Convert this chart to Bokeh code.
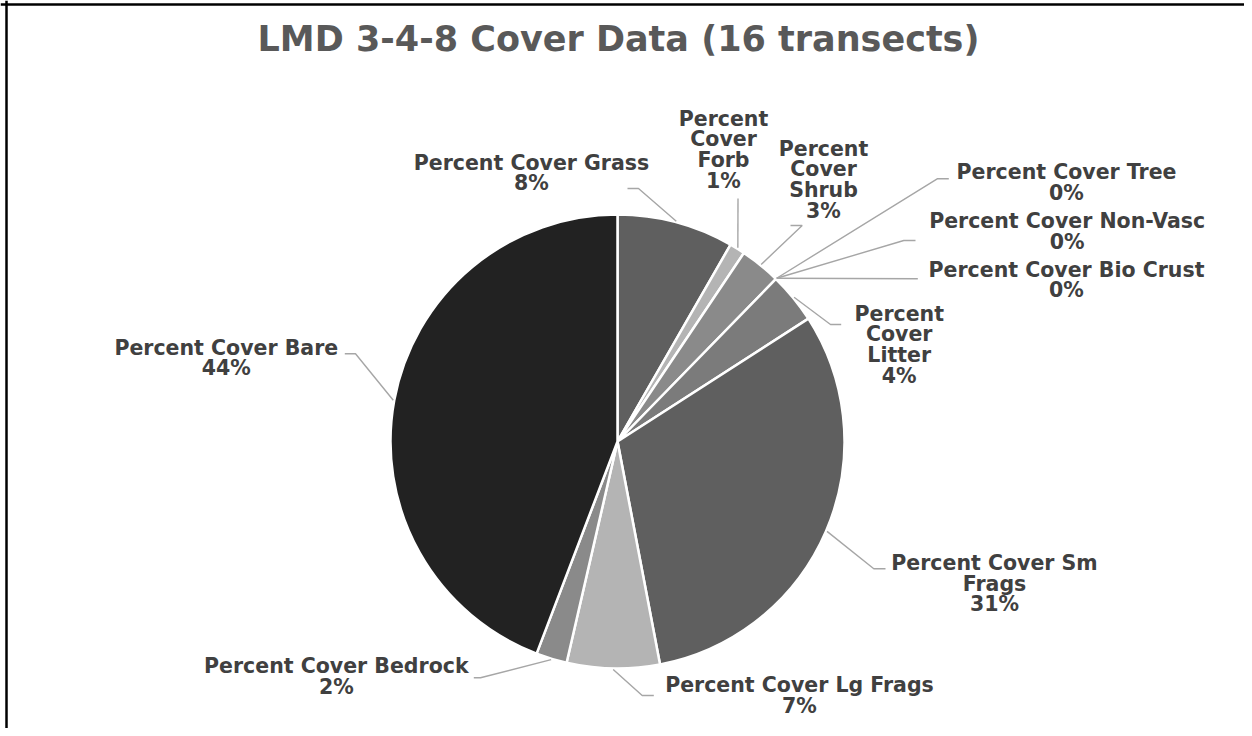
import numpy as np
from bokeh.plotting import figure
from bokeh.models import Range1d, Span, ColumnDataSource
from bokeh.core.properties import value
from bokeh.embed import file_html
from bokeh.resources import INLINE

# ---------------- data ----------------
title = "LMD 3-4-8 Cover Data (16 transects)"
categories = ["Percent Cover Grass", "Percent Cover Forb", "Percent Cover Shrub",
              "Percent Cover Tree", "Percent Cover Non-Vasc", "Percent Cover Bio Crust",
              "Percent Cover Litter", "Percent Cover Sm Frags", "Percent Cover Lg Frags",
              "Percent Cover Bedrock", "Percent Cover Bare"]
values = [8.3, 1.1, 2.9, 0.0, 0.0, 0.0, 3.6, 31.1, 6.6, 2.2, 44.2]

# ---------------- styles / layout ----------------
colors = ["#5f5f5f", "#b4b4b4", "#8a8a8a", "#a5a5a5", "#7f7f7f", "#4d4d4d",
          "#7b7b7b", "#5f5f5f", "#b4b4b4", "#8a8a8a", "#222222"]
CX, CY, R = 617, 441, 227          # pie centre / radius in screen px
LINE_H = 20.7
TEXT_DY = -7
FONT = "DejaVu Sans"
# per slice: label centre x, first baseline y, wrap mode, leader elbow, leader end
label_layout = [
    (531, 169, "none", (638, 188), (627, 188)),
    (723, 125, "words", (737.5, 198), (737.5, 198)),
    (823, 155, "words", (801.7, 225), (790, 225)),
    (1066, 178.3, "none", (936.7, 178.3), (948.3, 178.3)),
    (1066.7, 227.3, "none", (903.3, 240), (915, 240)),
    (1066, 276, "none", (917.3, 278.3), (917.3, 278.3)),
    (898.7, 320, "words", (830, 324), (840.7, 324)),
    (994, 569.3, 3, (873.3, 568.3), (885, 568.3)),
    (799, 691.7, "none", (641.7, 695), (653.3, 695)),
    (335.8, 672.7, "none", (480, 677.3), (473.3, 677.3)),
    (225.8, 354, "none", (355, 353.3), (344.3, 353.3)),
]

def Y(sy):
    return -sy

vals = np.array(values, dtype=float)
frac = vals / vals.sum()
c1 = np.cumsum(frac)
c0 = c1 - frac
start = np.pi / 2 - 2 * np.pi * c1
end = np.pi / 2 - 2 * np.pi * c0
mid = (c0 + c1) / 2

p = figure(width=1244, height=728, x_range=Range1d(0, 1244), y_range=Range1d(-728, 0),
           output_backend="svg", toolbar_location=None, min_border=0,
           x_axis_type=None, y_axis_type=None)
p.grid.visible = False
p.outline_line_color = None
p.background_fill_color = "white"
p.border_fill_color = "white"

keep = vals > 0
wsrc = ColumnDataSource(dict(start=start[keep], end=end[keep],
                             color=[c for c, k in zip(colors, keep) if k],
                             name=[n for n, k in zip(categories, keep) if k],
                             val=vals[keep]))
p.wedge(x=CX, y=Y(CY), radius=R, start_angle="start", end_angle="end", direction="anticlock",
        fill_color="color", line_color="white", line_width=2.5, source=wsrc)

# leader lines
xs, ys = [], []
for i, lay in enumerate(label_layout):
    ang = 2 * np.pi * mid[i]
    sx = CX + (R + 1) * np.sin(ang)
    sy = CY - (R + 1) * np.cos(ang)
    (ex, ey), (tx_, ty_) = lay[3], lay[4]
    xs.append([sx, ex, tx_])
    ys.append([Y(sy), Y(ey), Y(ty_)])
p.multi_line(xs=xs, ys=ys, line_color="#a6a6a6", line_width=1.4)

# labels
tx, ty, tt = [], [], []
for i, (name, v) in enumerate(zip(categories, values)):
    lx, ly, wrap = label_layout[i][:3]
    words = name.split()
    if wrap == "none":
        lines = [name]
    elif wrap == "words":
        lines = words
    else:
        lines = [" ".join(words[:wrap]), " ".join(words[wrap:])]
    lines = lines + [f"{round(v):.0f}%"]
    for k, ln in enumerate(lines):
        tx.append(lx)
        ty.append(Y(ly + k * LINE_H + TEXT_DY))
        tt.append(ln)
p.text(x="x", y="y", text="text", source=ColumnDataSource(dict(x=tx, y=ty, text=tt)),
       text_align="center", text_baseline="alphabetic", text_font=value(FONT),
       text_font_style="bold", text_font_size="20.5px", text_color="#404040")

# title
p.text(x=[618], y=[Y(38)], text=[title], text_align="center", text_baseline="alphabetic",
       text_font=value(FONT), text_font_style="bold", text_font_size="35px", text_color="#595959")

# chart border (left / top visible in the window)
p.add_layout(Span(location=6, dimension="height", line_color="black", line_width=2.5))
p.add_layout(Span(location=Y(4), dimension="width", line_color="black", line_width=2.5))

open("out.html", "w").write(file_html(p, INLINE))
